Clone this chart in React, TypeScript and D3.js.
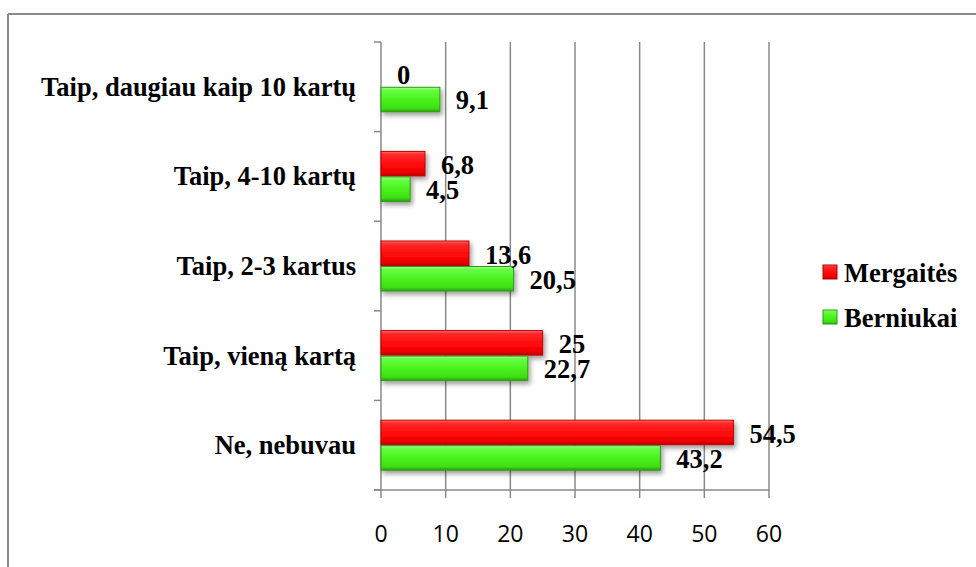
import React from 'react'
import * as d3 from 'd3'

const categories = [
  'Taip, daugiau kaip 10 kartų',
  'Taip, 4-10 kartų',
  'Taip, 2-3 kartus',
  'Taip, vieną kartą',
  'Ne, nebuvau',
]
const mergaites = [0, 6.8, 13.6, 25, 54.5]
const berniukai = [9.1, 4.5, 20.5, 22.7, 43.2]
const xTicks = [0, 10, 20, 30, 40, 50, 60]
const seriesNames = ['Mergaitės', 'Berniukai']

const serif = '"Liberation Serif", "Times New Roman", serif'
const gridColor = '#8a8a8a'

const fmt = (v: number) => String(v).replace('.', ',')

const App = () => {
  const width = 976
  const height = 567
  const x = d3.scaleLinear().domain([0, 60]).range([381, 769])
  const y = d3.scaleBand().domain(categories).range([42, 490]).padding(0)
  const bounds = [...categories.map((c) => y(c) as number), 490]
  const barH = 24.5
  const fs = 26.5

  const rows = categories.map((c, i) => {
    const mid = (y(c) as number) + y.bandwidth() / 2
    return { c, mid, m: mergaites[i], b: berniukai[i] }
  })

  return (
    <svg width={width} height={height} style={{ position: 'absolute', left: 0, top: 0, background: '#fff' }}>
      <defs>
        <linearGradient id="gRed" x1="0" y1="0" x2="0" y2="1">
          <stop offset="0" stopColor="#ff7070" />
          <stop offset="0.12" stopColor="#ff2a2a" />
          <stop offset="0.5" stopColor="#ff0d0d" />
          <stop offset="0.85" stopColor="#f00000" />
          <stop offset="1" stopColor="#b80000" />
        </linearGradient>
        <linearGradient id="gGreen" x1="0" y1="0" x2="0" y2="1">
          <stop offset="0" stopColor="#a8ff90" />
          <stop offset="0.12" stopColor="#66ff44" />
          <stop offset="0.5" stopColor="#4af21c" />
          <stop offset="0.85" stopColor="#3ee014" />
          <stop offset="1" stopColor="#2a9e10" />
        </linearGradient>
        <filter id="shadow" x="-10%" y="-30%" width="130%" height="190%">
          <feDropShadow dx="2" dy="3" stdDeviation="2.5" floodColor="#000" floodOpacity="0.4" />
        </filter>
      </defs>

      {/* outer frame */}
      <line x1={8} x2={976} y1={14} y2={14} stroke={gridColor} strokeWidth={2} />
      <line x1={8} x2={8} y1={14} y2={567} stroke={gridColor} strokeWidth={2} />

      {/* gridlines + x ticks */}
      {xTicks.map((t) => (
        <line key={'g' + t} x1={x(t)} x2={x(t)} y1={42} y2={498} stroke={gridColor} strokeWidth={1.5} />
      ))}
      <line x1={374} x2={x(60)} y1={490} y2={490} stroke={gridColor} strokeWidth={1.5} />
      {bounds.map((b, i) => (
        <line key={'yt' + i} x1={374} x2={381} y1={b} y2={b} stroke={gridColor} strokeWidth={1.5} />
      ))}

      {xTicks.map((t) => (
        <text key={'xl' + t} x={x(t)} y={542} textAnchor="middle" fontFamily='"Open Sans", sans-serif' fontSize={23} fill="#000">
          {t}
        </text>
      ))}

      {/* bars */}
      {rows.map((r) => (
        <g key={r.c}>
          {r.m > 0 && (
            <rect x={x(0)} y={r.mid - 25} width={x(r.m) - x(0)} height={barH} fill="url(#gRed)" stroke="#c00000" strokeWidth={1} filter="url(#shadow)" />
          )}
          {r.b > 0 && (
            <rect x={x(0)} y={r.mid + 0.5} width={x(r.b) - x(0)} height={barH} fill="url(#gGreen)" stroke="#2f9a14" strokeWidth={1} filter="url(#shadow)" />
          )}
        </g>
      ))}

      {/* category labels */}
      {rows.map((r) => (
        <text key={'cl' + r.c} x={356} y={r.mid + 9} textAnchor="end" fontFamily={serif} fontWeight="bold" fontSize={fs} fill="#000">
          {r.c}
        </text>
      ))}

      {/* value labels */}
      {rows.map((r) => (
        <g key={'vl' + r.c} fontFamily={serif} fontWeight="bold" fontSize={fs} fill="#000">
          <text x={x(r.m) + 16} y={r.mid - 12.5 + 10}>{fmt(r.m)}</text>
          <text x={x(r.b) + 16} y={r.mid + 12.5 + 10}>{fmt(r.b)}</text>
        </g>
      ))}

      {/* legend */}
      {seriesNames.map((s, i) => (
        <g key={s} transform={`translate(823,${265 + i * 45})`}>
          <rect x={0} y={0} width={14} height={14} fill={i === 0 ? 'url(#gRed)' : 'url(#gGreen)'} stroke={i === 0 ? '#b00000' : '#2f9a14'} strokeWidth={1} />
          <text x={21} y={17} fontFamily={serif} fontWeight="bold" fontSize={fs} fill="#000">{s}</text>
        </g>
      ))}
    </svg>
  )
}

export default App
